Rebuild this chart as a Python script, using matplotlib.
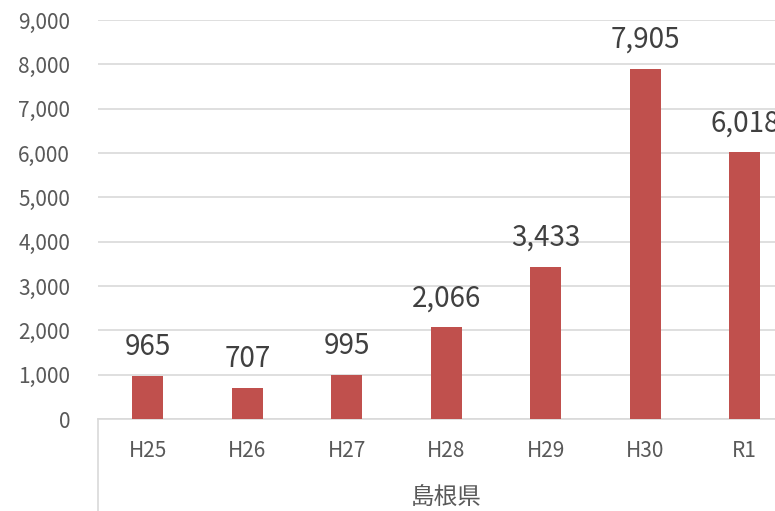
import matplotlib
matplotlib.use("Agg")
import matplotlib.pyplot as plt
from matplotlib.lines import Line2D
from matplotlib.ticker import FuncFormatter, MultipleLocator

plt.rcParams["font.family"] = ["Noto Sans CJK JP", "DejaVu Sans"]

categories = ["H25", "H26", "H27", "H28", "H29", "H30", "R1"]
values = [965, 707, 995, 2066, 3433, 7905, 6018]
group_label = "島根県"

BAR_COLOR = "#C0504D"
TEXT_COLOR = "#595959"
GRID_COLOR = "#D9D9D9"

fig = plt.figure(figsize=(7.75, 5.11), dpi=100)
# plot area runs past the right edge, the source image is cropped there
ax = fig.add_axes([98 / 775, 92 / 511, 696.5 / 775, 399 / 511])

x = range(len(categories))
ax.bar(x, values, width=0.31, color=BAR_COLOR, zorder=3)

for xi, v in zip(x, values):
    ax.annotate(f"{v:,}", (xi, v), xytext=(0, 10), textcoords="offset points",
                ha="center", va="bottom", fontsize=20, color="#404040",
                annotation_clip=False)

ax.set_xlim(-0.5, len(categories) - 0.5)
ax.set_ylim(0, 9000)
ax.yaxis.set_major_locator(MultipleLocator(1000))
ax.yaxis.set_major_formatter(FuncFormatter(lambda v, p: f"{int(v):,}"))
ax.grid(True, axis="y", color=GRID_COLOR, linewidth=1.2, zorder=0)

ax.set_xticks(list(x))
ax.set_xticklabels(categories)
ax.tick_params(axis="both", length=0, labelsize=15, labelcolor=TEXT_COLOR)
ax.tick_params(axis="x", pad=15)
ax.tick_params(axis="y", pad=20)

for side in ["top", "right", "left"]:
    ax.spines[side].set_visible(False)
ax.spines["bottom"].set_color(GRID_COLOR)
ax.spines["bottom"].set_linewidth(1.2)

# multi-level category axis: separator and group label
ax.add_line(Line2D([0, 0], [0, -0.25], transform=ax.transAxes,
                   color=GRID_COLOR, linewidth=1.2, clip_on=False))
ax.text(0.5, -0.2, group_label, transform=ax.transAxes, ha="center",
        va="center", fontsize=17, color=TEXT_COLOR)

fig.savefig("out.png", dpi=100)
